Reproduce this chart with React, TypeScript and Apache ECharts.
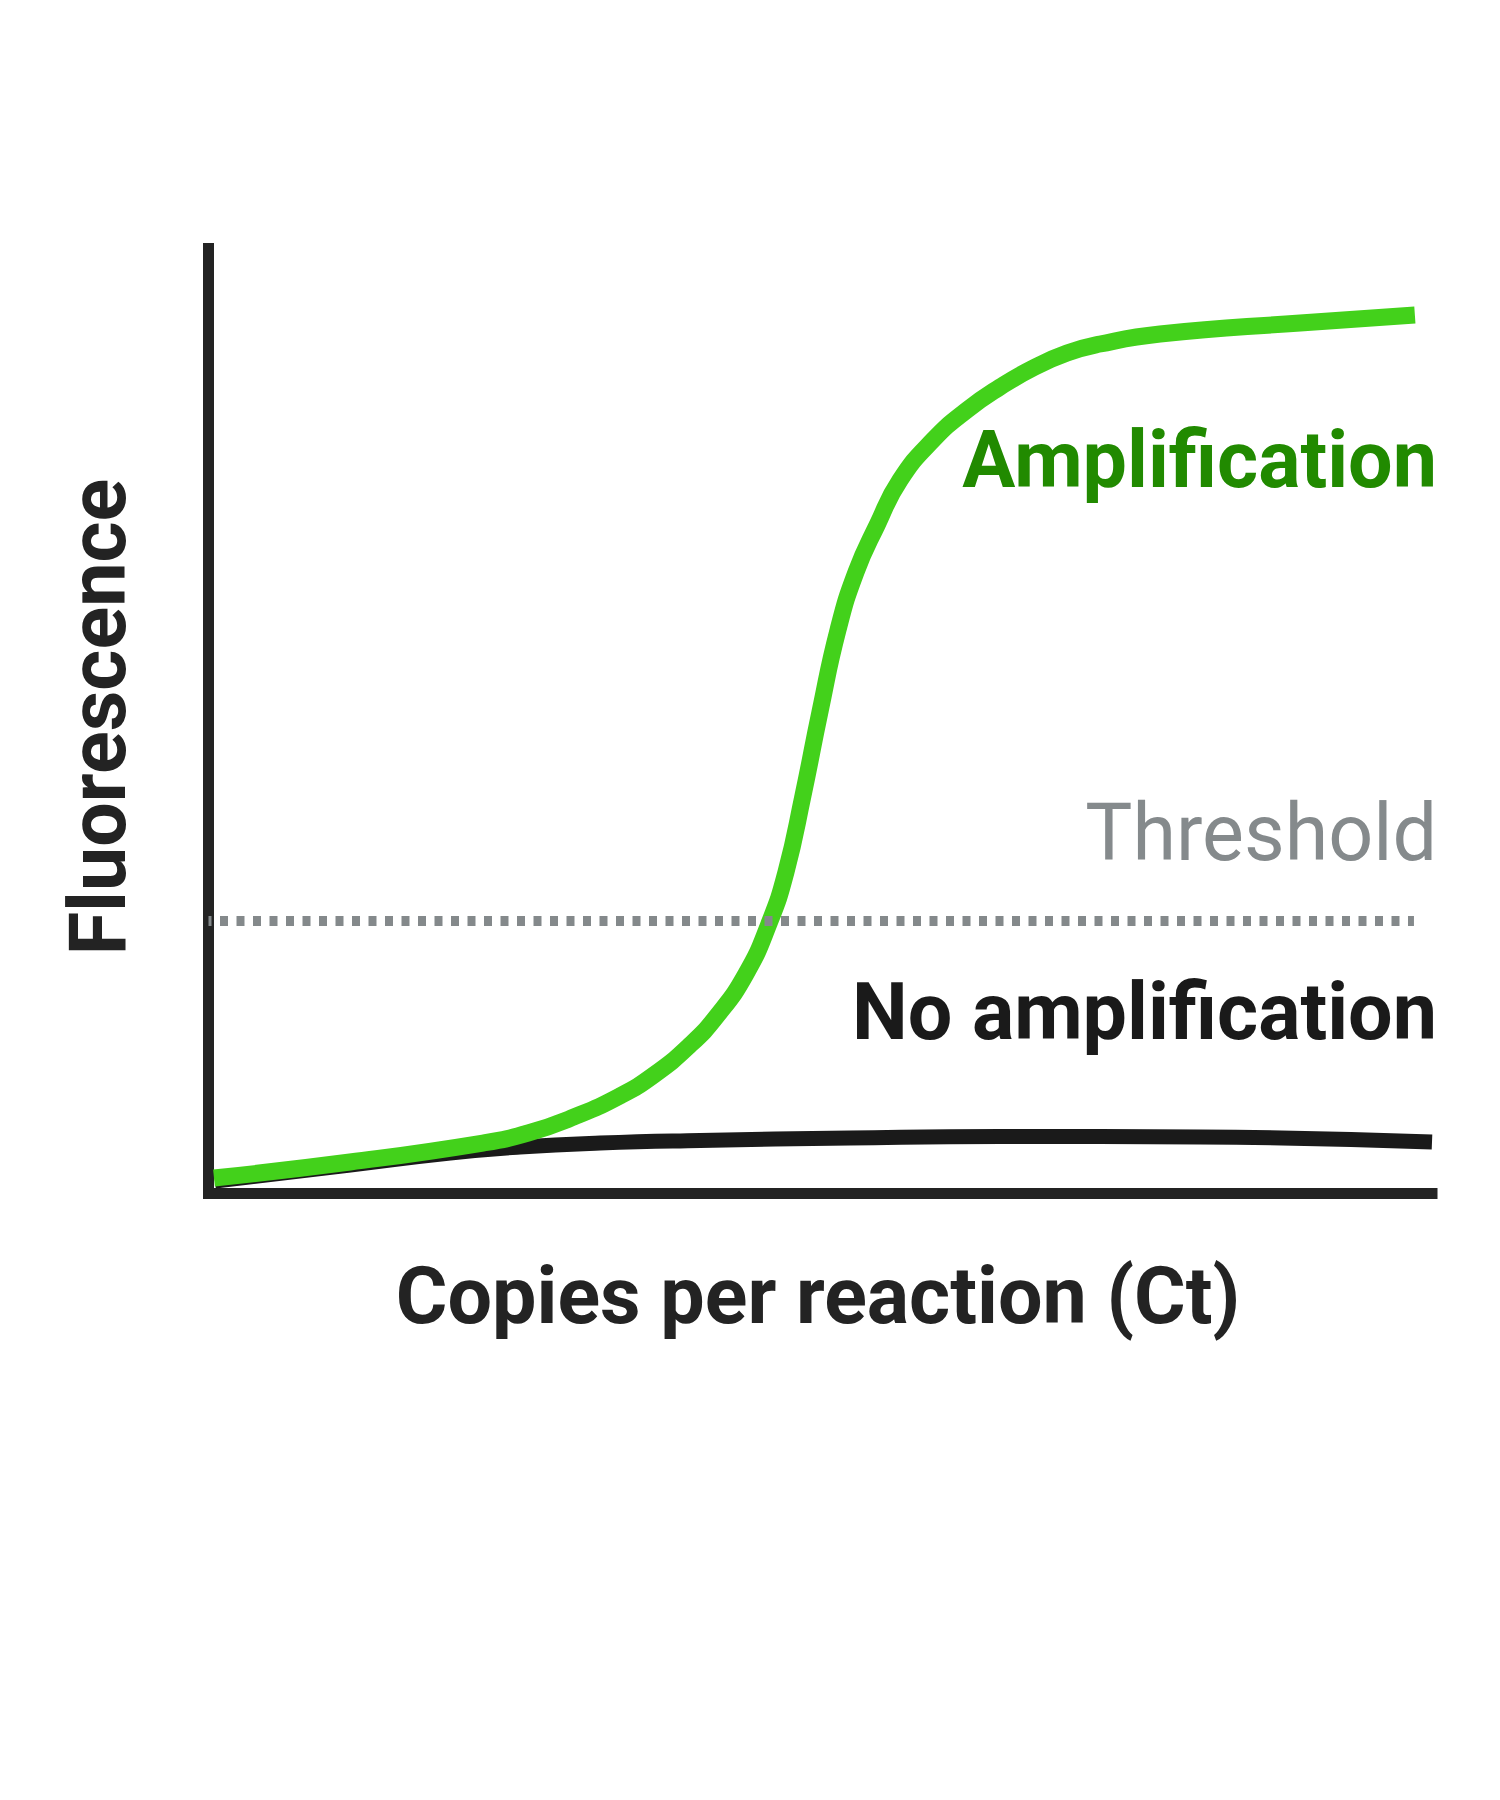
import React, { useEffect, useRef } from "react";
import * as echarts from "echarts";

// Cycle (x) and fluorescence (y) values
const ampCycles = [0.18, 4.63, 8.97, 10.45, 11.95, 13.45, 14.56, 15.71, 16.62, 17.57, 18.32, 18.88, 19.44, 19.99, 20.58, 21.17, 21.86, 22.61, 23.69, 24.8, 25.88, 26.96, 28.07, 29.15, 31.11, 35.69, 39.44];
const ampValues = [1.64, 3.33, 5.34, 6.4, 8.1, 10.32, 12.54, 15.61, 18.78, 23.23, 28.52, 34.02, 42.17, 50.95, 59.63, 65.77, 70.74, 75.5, 79.74, 82.91, 85.34, 87.35, 88.94, 89.89, 90.95, 92.12, 92.96];

const noAmpCycles = [0.21, 4.63, 7.9, 10.18, 12.8, 16.07, 20.97, 25.88, 32.42, 40.0];
const noAmpValues = [1.32, 3.02, 4.29, 4.92, 5.34, 5.61, 5.87, 6.03, 5.98, 5.45];

const thresholdCycles = [0, 39.41];
const thresholdValue = 28.84;

const xRange = [0, 40];
const yRange = [0, 100];

const xTitle = "Copies per reaction (Ct)";
const yTitle = "Fluorescence";
const ampLabel = "Amplification";
const thresholdLabel = "Threshold";
const noAmpLabel = "No amplification";

export default function App() {
  const ref = useRef<HTMLDivElement>(null);
  useEffect(() => {
    document.body.style.margin = "0";
    if (!ref.current) return;
    const chart = echarts.init(ref.current, null, { renderer: "svg" });
    const font = "Roboto, 'Noto Sans', sans-serif";
    chart.setOption({
      animation: false,
      backgroundColor: "#ffffff",
      grid: { left: 208.5, right: 68, top: 248.5, bottom: 606.5, containLabel: false },
      xAxis: {
        type: "value",
        min: xRange[0],
        max: xRange[1],
        axisLine: { show: true, onZero: false, lineStyle: { color: "#232323", width: 11, cap: "square" } },
        axisTick: { show: false },
        axisLabel: { show: false },
        splitLine: { show: false },
      },
      yAxis: {
        type: "value",
        min: yRange[0],
        max: yRange[1],
        axisLine: { show: true, onZero: false, lineStyle: { color: "#232323", width: 11, cap: "square" } },
        axisTick: { show: false },
        axisLabel: { show: false },
        splitLine: { show: false },
      },
      series: [
        {
          type: "line",
          name: noAmpLabel,
          data: noAmpCycles.map((c, i) => [c, noAmpValues[i]]),
          symbol: "none",
          smooth: 0.5,
          clip: false,
          lineStyle: { color: "#1a1a1a", width: 15 },
          z: 3,
        },
        {
          type: "line",
          name: ampLabel,
          data: ampCycles.map((c, i) => [c, ampValues[i]]),
          symbol: "none",
          smooth: 0.5,
          clip: false,
          lineStyle: { color: "#43d11b", width: 17 },
          z: 4,
        },
        {
          type: "line",
          name: thresholdLabel,
          data: thresholdCycles.map((c) => [c, thresholdValue]),
          symbol: "none",
          clip: false,
          lineStyle: { color: "#84898b", width: 10, type: [8, 8.5], dashOffset: 4.5 },
          z: 5,
        },
      ],
      graphic: [
        {
          type: "text",
          x: 1437,
          y: 459.5,
          style: { text: ampLabel, font: `bold 79px ${font}`, fill: "#218a00", textAlign: "right", textVerticalAlign: "middle" },
        },
        {
          type: "text",
          x: 1437,
          y: 832.5,
          style: { text: thresholdLabel, font: `normal 79px ${font}`, fill: "#858a8c", textAlign: "right", textVerticalAlign: "middle" },
        },
        {
          type: "text",
          x: 1437,
          y: 1011.5,
          style: { text: noAmpLabel, font: `bold 79px ${font}`, fill: "#1a1a1a", textAlign: "right", textVerticalAlign: "middle" },
        },
        {
          type: "text",
          x: 818,
          y: 1295.5,
          style: { text: xTitle, font: `bold 79px ${font}`, fill: "#232323", textAlign: "center", textVerticalAlign: "middle" },
        },
        {
          type: "text",
          x: 97.5,
          y: 717,
          rotation: Math.PI / 2,
          style: { text: yTitle, font: `bold 79px ${font}`, fill: "#232323", textAlign: "center", textVerticalAlign: "middle" },
        },
      ],
    });
    return () => chart.dispose();
  }, []);
  return <div ref={ref} style={{ width: 1500, height: 1800 }} />;
}
